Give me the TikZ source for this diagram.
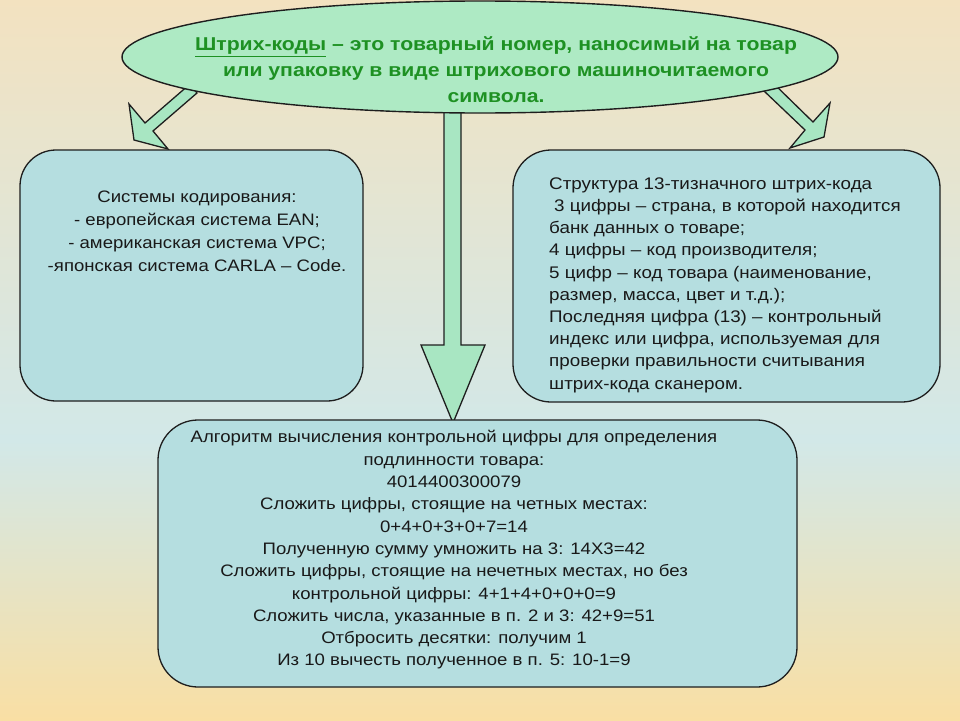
\documentclass[tikz,border=0pt]{standalone}
\usepackage{fontspec}
\setmainfont{Liberation Sans}[FakeStretch=1.12]
\newfontfamily\titlefont{Liberation Sans}[FakeStretch=1.14]
\usetikzlibrary{shapes.geometric}
\definecolor{bgtop}{HTML}{F3E2C0}
\definecolor{bgmid}{HTML}{D2E8E8}
\definecolor{bgbot}{HTML}{F9DFA4}
\definecolor{boxfill}{HTML}{B5DEE0}
\definecolor{ellfill}{HTML}{AEEAC4}
\definecolor{arrfill}{HTML}{A8E6C2}
\definecolor{titlegreen}{RGB}{30,145,35}
\definecolor{outline}{HTML}{1E1E1E}
\tikzset{
  blockarrow/.style={fill=arrfill, draw=outline, line width=1.3pt, line join=miter},
  infobox/.style={fill=boxfill, draw=outline, line width=1.3pt},
  bodytext/.style={inner sep=0pt, text=black!90},
}
\begin{document}
\begin{tikzpicture}[x=1pt,y=-1pt]
\useasboundingbox (0,0) rectangle (960,720);
\shade[top color=bgtop, bottom color=bgmid] (0,0) rectangle (960,440);
\shade[top color=bgmid, bottom color=bgbot] (0,440) rectangle (960,720);

% block arrows
\draw[blockarrow] (190,84) -- (145,123) -- (129,104) -- (134,140) -- (168,149) -- (153,131) -- (197,93) -- cycle;
\draw[blockarrow] (772,82) -- (764,91) -- (805,130) -- (790,148) -- (824,137) -- (830,103) -- (813,122) -- cycle;
\draw[blockarrow] (444,100) -- (444,345) -- (421,345) -- (453,423) -- (485,345) -- (461,345) -- (461,100) -- cycle;

% ellipse
\node[ellipse, draw=outline, line width=1.4pt, fill=ellfill, minimum width=716pt, minimum height=112pt, inner sep=0pt] (def) at (480,57) {};
\node[inner sep=0pt, align=center, text=titlegreen, font=\titlefont\bfseries\fontsize{18.6}{26}\selectfont] (deftext) at (496,70)
  {\underline{Штрих-коды} – это товарный номер, наносимый на товар\\
   или упаковку в виде штрихового машиночитаемого\\
   символа.};

% boxes
\draw[infobox, rounded corners=36pt] (20,150) rectangle (363,401);
\node (leftbox) at (191,275) {};
\draw[infobox, rounded corners=38pt] (513,150) rectangle (940,402);
\node (rightbox) at (726,276) {};
\draw[infobox, rounded corners=40pt] (158,420) rectangle (797,687);
\node (botbox) at (477,553) {};

\node[bodytext, align=center, font=\fontsize{16.6}{23}\selectfont] (lefttext) at (197,231)
  {Системы кодирования:\\
   - европейская система EAN;\\
   - американская система VPC;\\
   -японская система CARLA – Code.};

\node[bodytext, align=left, anchor=west, font=\fontsize{16.8}{22.2}\selectfont] (righttext) at (549,285)
  {Структура 13-тизначного штрих-кода\\
   \hspace{0.3em}3 цифры – страна, в которой находится\\
   банк данных о товаре;\\
   4 цифры – код производителя;\\
   5 цифр – код товара (наименование,\\
   размер, масса, цвет и т.д.);\\
   Последняя цифра (13) – контрольный\\
   индекс или цифра, используемая для\\
   проверки правильности считывания\\
   штрих-кода сканером.};

\node[bodytext, align=center, font=\fontsize{16.6}{22.3}\selectfont] (bottext) at (454,550)
  {Алгоритм вычисления контрольной цифры для определения\\
   подлинности товара:\\
   4014400300079\\
   Сложить цифры, стоящие на четных местах:\\
   0+4+0+3+0+7=14\\
   Полученную сумму умножить на 3: 14Х3=42\\
   Сложить цифры, стоящие на нечетных местах, но без\\
   контрольной цифры: 4+1+4+0+0+0=9\\
   Сложить числа, указанные в п. 2 и 3: 42+9=51\\
   Отбросить десятки: получим 1\\
   Из 10 вычесть полученное в п. 5: 10-1=9};
\end{tikzpicture}
\end{document}
